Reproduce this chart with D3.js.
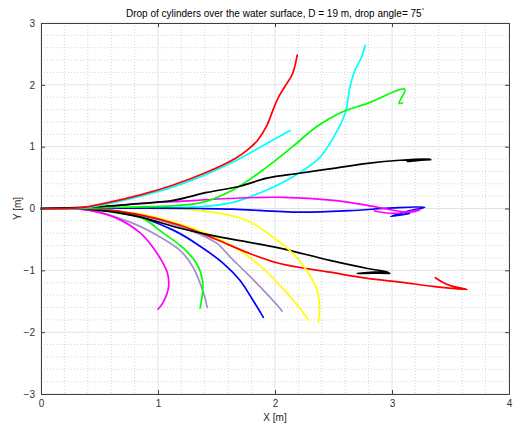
<!DOCTYPE html>
<html>
<head>
<meta charset="utf-8">
<script src="https://cdn.jsdelivr.net/npm/d3@7"></script>
<style>
body { margin: 0; background: #fff; }
svg { font-family: "Liberation Sans", Arial, sans-serif; }
</style>
</head>
<body>
<script>
// trajectories, [X m, Y m]
const redUpper = [[0,0],[0.33,0.01],[0.56,0.09],[0.85,0.22],[1.13,0.38],[1.42,0.59],[1.66,0.81],[1.76,0.94],[1.85,1.10],[1.93,1.34],[1.98,1.58],[2.03,1.80],[2.09,1.99],[2.15,2.18],[2.19,2.48]];
const cyanShort = [[0,0],[0.33,0.0],[0.56,0.07],[0.85,0.2],[1.13,0.35],[1.42,0.56],[1.68,0.79],[1.90,1.02],[2.13,1.26]];
const cyanLong = [[0,0],[0.68,0.01],[1.36,0.03],[1.64,0.10],[1.93,0.30],[2.15,0.51],[2.38,0.82],[2.50,1.15],[2.60,1.54],[2.64,1.96],[2.68,2.22],[2.74,2.45],[2.77,2.64]];
const greenUpper = [[0,0],[0.68,0.02],[1.36,0.09],[1.64,0.30],[1.93,0.67],[2.15,1.00],[2.36,1.33],[2.56,1.55],[2.79,1.70],[3.11,1.93],[3.06,1.70],[3.09,1.71]];
const blackUpper = [[0,0],[0.50,0.03],[0.85,0.08],[1.13,0.13],[1.42,0.26],[1.70,0.36],[1.93,0.49],[2.21,0.57],[2.50,0.65],[2.79,0.73],[3.07,0.78],[3.32,0.80],[3.13,0.76],[3.29,0.79],[3.18,0.77],[3.33,0.79]];
const magentaMid = [[0,0],[0.42,0.005],[0.85,0.085],[1.13,0.11],[1.70,0.17],[2.07,0.18],[2.50,0.13],[2.79,0.05],[3.15,-0.06],[3.24,-0.02],[3.01,-0.08],[2.85,-0.04]];
const blueMid = [[0,0],[0.50,0.005],[1.36,0.0],[1.64,-0.01],[2.21,-0.06],[2.64,-0.035],[3.01,0.01],[3.28,0.02],[3.14,-0.04],[2.99,-0.13],[3.15,-0.08]];
const yellowArc = [[0,0],[0.68,0.0],[1.19,-0.01],[1.47,-0.06],[1.76,-0.19],[1.98,-0.46],[2.15,-0.72],[2.27,-1.0],[2.36,-1.32],[2.38,-1.69],[2.37,-1.84]];
const yellowLow = [[0,0],[0.5,-0.02],[0.85,-0.09],[1.19,-0.25],[1.47,-0.45],[1.70,-0.68],[1.87,-0.92],[2.04,-1.24],[2.19,-1.56],[2.29,-1.81]];
const redLower = [[0,0],[0.5,-0.01],[0.82,-0.09],[1.19,-0.27],[1.50,-0.50],[1.76,-0.71],[2.04,-0.89],[2.47,-1.03],[2.79,-1.13],[3.07,-1.19],[3.35,-1.26],[3.64,-1.31],[3.52,-1.26],[3.44,-1.20],[3.37,-1.12]];
const blackLower = [[0,0],[0.5,-0.03],[0.85,-0.14],[1.19,-0.32],[1.47,-0.44],[1.76,-0.54],[2.04,-0.64],[2.47,-0.84],[2.79,-0.97],[2.97,-1.03],[2.70,-1.05],[2.93,-1.02],[2.78,-1.04],[2.98,-1.05]];
const magentaLow = [[0,0],[0.25,0],[0.42,-0.03],[0.65,-0.16],[0.85,-0.40],[0.99,-0.72],[1.08,-1.04],[1.09,-1.27],[1.04,-1.53],[1.00,-1.63]];
const greenLow = [[0,0],[0.42,-0.01],[0.68,-0.08],[0.87,-0.16],[1.04,-0.39],[1.21,-0.63],[1.33,-0.89],[1.38,-1.16],[1.38,-1.37],[1.36,-1.61]];
const greyLow1 = [[0,0],[0.42,-0.03],[0.76,-0.22],[0.99,-0.43],[1.19,-0.68],[1.30,-0.95],[1.36,-1.21],[1.40,-1.43],[1.42,-1.60]];
const blueLow = [[0,0],[0.42,-0.01],[0.70,-0.06],[1.13,-0.35],[1.36,-0.61],[1.56,-0.89],[1.70,-1.16],[1.81,-1.48],[1.90,-1.76]];
const greyLow2 = [[0,0],[0.42,-0.01],[0.85,-0.11],[1.27,-0.35],[1.50,-0.56],[1.62,-0.79],[1.76,-1.05],[1.90,-1.32],[2.04,-1.61],[2.06,-1.66]];

const xTicks = [0,1,2,3,4];
const yTicks = [-3,-2,-1,0,1,2,3];

const series = [
  {pts: greyLow2, color: "#a090cc"},
  {pts: greyLow1, color: "#a090cc"},
  {pts: blueLow, color: "#0000ff"},
  {pts: greenLow, color: "#00ff00"},
  {pts: magentaLow, color: "#ff00ff"},
  {pts: yellowLow, color: "#ffff00"},
  {pts: redLower, color: "#ff0000"},
  {pts: blackLower, color: "#000000"},
  {pts: yellowArc, color: "#ffff00"},
  {pts: cyanLong, color: "#00ffff"},
  {pts: blueMid, color: "#0000ff"},
  {pts: magentaMid, color: "#ff00ff"},
  {pts: greenUpper, color: "#00ff00"},
  {pts: blackUpper, color: "#000000"},
  {pts: cyanShort, color: "#00ffff"},
  {pts: redUpper, color: "#ff0000"}
];

const W = 513, H = 427;
const pLeft = 41, pRight = 509, pTop = 23, pBottom = 394;

const svg = d3.select("body").append("svg")
    .attr("width", W)
    .attr("height", H);

const x = d3.scaleLinear().domain([0,4]).range([pLeft,pRight]);
const y = d3.scaleLinear().domain([-3,3]).range([pBottom,pTop]);

// minor grid
const minorX = d3.range(0,4.001,0.2).filter(v => Math.abs(v - Math.round(v)) > 1e-6);
const minorY = d3.range(-3,3.001,0.2).filter(v => Math.abs(v - Math.round(v)) > 1e-6);
svg.append("g").selectAll("line").data(minorX).enter().append("line")
    .attr("x1", d => x(d)).attr("x2", d => x(d))
    .attr("y1", pTop).attr("y2", pBottom)
    .attr("stroke","#c8c8c8").attr("stroke-width",0.8).attr("stroke-dasharray","1,2");
svg.append("g").selectAll("line").data(minorY).enter().append("line")
    .attr("y1", d => y(d)).attr("y2", d => y(d))
    .attr("x1", pLeft).attr("x2", pRight)
    .attr("stroke","#c8c8c8").attr("stroke-width",0.8).attr("stroke-dasharray","1,2");

// major grid
svg.append("g").selectAll("line").data(xTicks).enter().append("line")
    .attr("x1", d => x(d)).attr("x2", d => x(d))
    .attr("y1", pTop).attr("y2", pBottom)
    .attr("stroke","#e3e3e3");
svg.append("g").selectAll("line").data(yTicks).enter().append("line")
    .attr("y1", d => y(d)).attr("y2", d => y(d))
    .attr("x1", pLeft).attr("x2", pRight)
    .attr("stroke","#e3e3e3");

// curves
const line = d3.line()
    .x(d => x(d[0]))
    .y(d => y(d[1]))
    .curve(d3.curveCatmullRom.alpha(0.5));

svg.append("g").selectAll("path").data(series).enter().append("path")
    .attr("d", d => line(d.pts))
    .attr("fill","none")
    .attr("stroke", d => d.color)
    .attr("stroke-width",1.7)
    .attr("stroke-linejoin","round")
    .attr("stroke-linecap","round");

// axes
const axisColor = "#404040";
const fmt = d3.format("d");

const gx = svg.append("g")
    .attr("transform", `translate(0,${pBottom})`)
    .call(d3.axisBottom(x).tickValues(xTicks).tickFormat(fmt).tickSizeInner(-4).tickSizeOuter(0).tickPadding(6));
const gxTop = svg.append("g")
    .attr("transform", `translate(0,${pTop})`)
    .call(d3.axisTop(x).tickValues(xTicks).tickFormat("").tickSizeInner(-4).tickSizeOuter(0));
const gy = svg.append("g")
    .attr("transform", `translate(${pLeft},0)`)
    .call(d3.axisLeft(y).tickValues(yTicks).tickFormat(fmt).tickSizeInner(-4).tickSizeOuter(0).tickPadding(6));
const gyRight = svg.append("g")
    .attr("transform", `translate(${pRight},0)`)
    .call(d3.axisRight(y).tickValues(yTicks).tickFormat("").tickSizeInner(-4).tickSizeOuter(0));

[gx, gxTop, gy, gyRight].forEach(g => {
    g.select(".domain").attr("stroke", axisColor);
    g.selectAll(".tick line").attr("stroke", axisColor);
    g.selectAll("text").attr("fill","#333").attr("font-size",10)
        .attr("font-family","'Liberation Sans', Arial, sans-serif");
});

// labels
svg.append("text")
    .attr("x", (pLeft+pRight)/2).attr("y", 421)
    .attr("text-anchor","middle")
    .attr("font-size",10).attr("fill","#222")
    .text("X [m]");

svg.append("text")
    .attr("transform", `translate(21,${(pTop+pBottom)/2}) rotate(-90)`)
    .attr("text-anchor","middle")
    .attr("font-size",10).attr("fill","#222")
    .text("Y [m]");

const title = svg.append("text")
    .attr("x", (pLeft+pRight)/2).attr("y", 17)
    .attr("text-anchor","middle")
    .attr("font-size",10).attr("fill","#000");
title.append("tspan").text("Drop of cylinders over the water surface, D = 19 m, drop angle= 75");
title.append("tspan").attr("dy",-5).attr("font-size",6).text("°");
</script>
</body>
</html>
